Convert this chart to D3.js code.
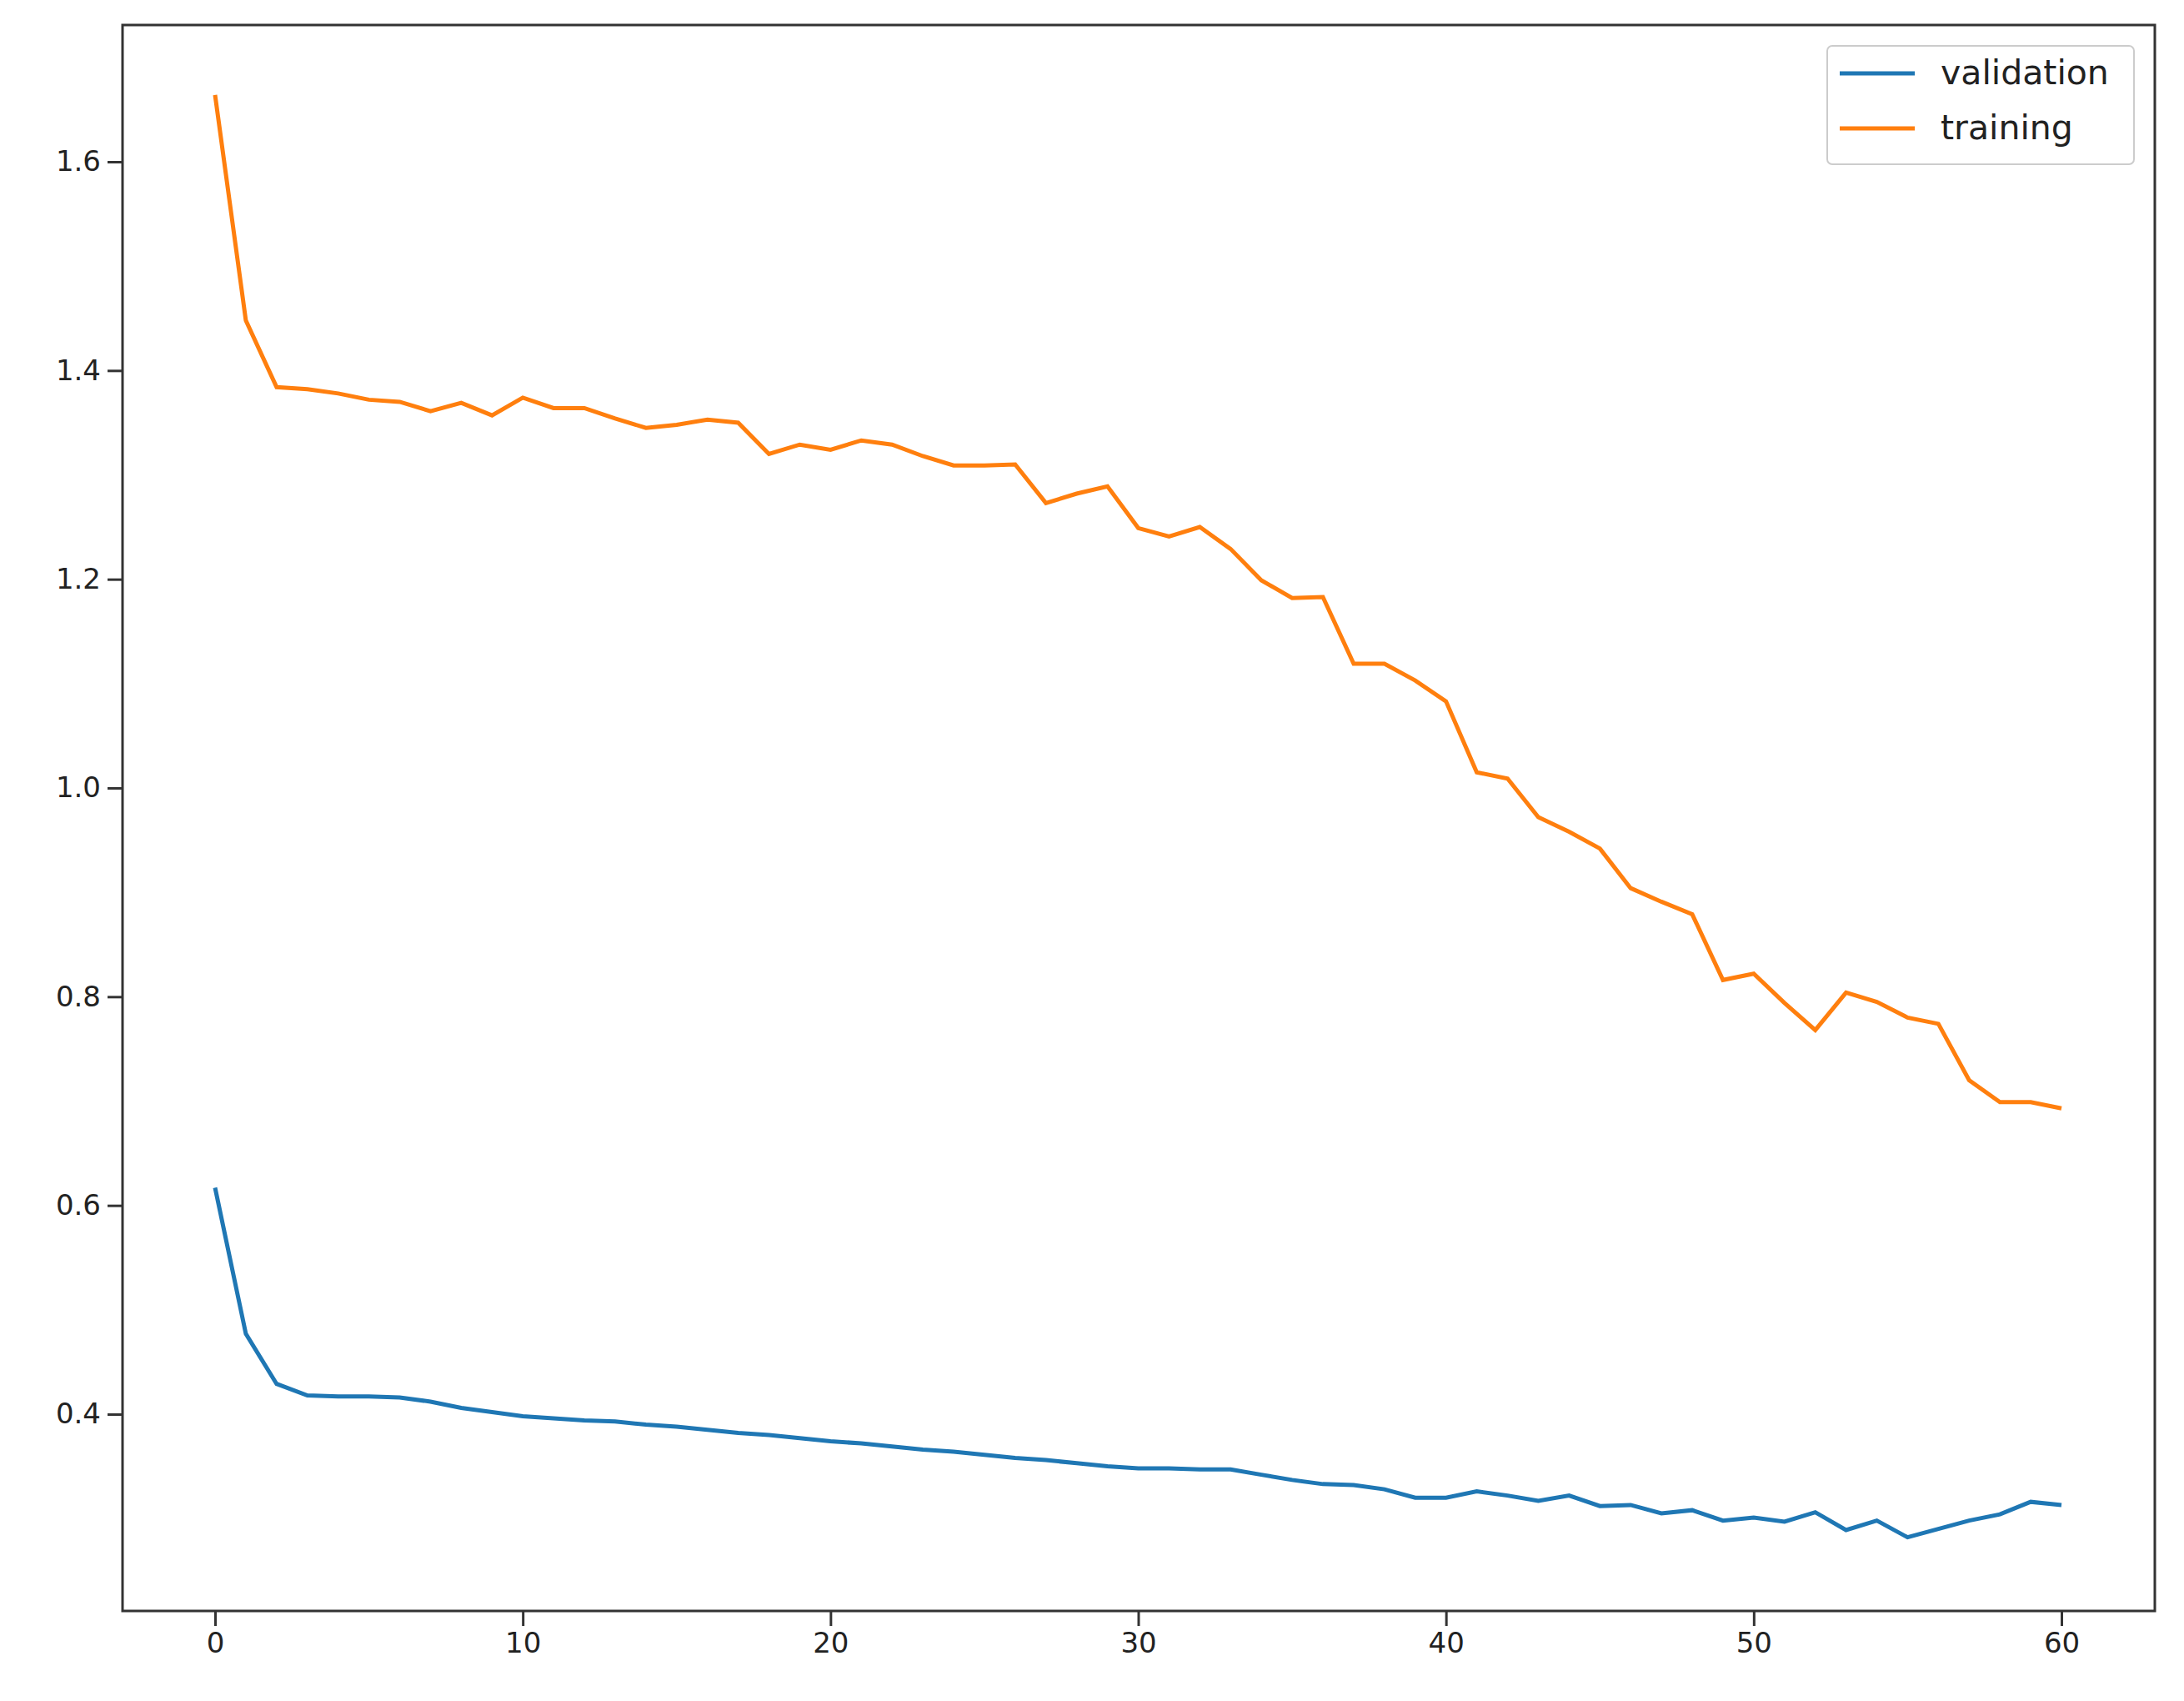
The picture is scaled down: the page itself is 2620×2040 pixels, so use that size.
<!DOCTYPE html><html><head><meta charset="utf-8"><script src="https://cdn.jsdelivr.net/npm/d3@7"></script>
<style>body{margin:0;background:#fff}</style></head><body><svg id="c" width="2620" height="2040"></svg>
<script>
const validation=[0.617,0.477,0.429,0.418,0.417,0.417,0.416,0.412,0.406,0.402,0.398,0.396,0.394,0.393,0.390,0.388,0.385,0.382,0.380,0.377,0.374,0.372,0.369,0.366,0.364,0.361,0.358,0.356,0.353,0.350,0.348,0.348,0.347,0.347,0.342,0.337,0.333,0.332,0.328,0.320,0.320,0.326,0.322,0.317,0.322,0.312,0.313,0.305,0.308,0.298,0.301,0.297,0.306,0.289,0.298,0.282,0.290,0.298,0.304,0.316,0.313];
const training=[1.664,1.448,1.384,1.382,1.378,1.372,1.370,1.361,1.369,1.357,1.374,1.364,1.364,1.354,1.345,1.348,1.353,1.350,1.320,1.329,1.324,1.333,1.329,1.318,1.309,1.309,1.310,1.273,1.282,1.289,1.249,1.241,1.250,1.229,1.199,1.182,1.183,1.119,1.119,1.103,1.083,1.015,1.009,0.972,0.958,0.942,0.904,0.891,0.879,0.816,0.822,0.794,0.768,0.804,0.795,0.780,0.774,0.720,0.699,0.699,0.693];
const xTicks=[0,10,20,30,40,50,60];
const yTicks=[0.4,0.6,0.8,1.0,1.2,1.4,1.6];
const series=[{name:"validation",values:validation,color:"#1f77b4"},{name:"training",values:training,color:"#ff7f0e"}];
const L=147,R=2585,T=30,B=1932;
const x=d3.scaleLinear().domain([0,60]).range([258,2473]);
const y=d3.scaleLinear().domain([0.4,1.6]).range([1696,194]);
const svg=d3.select("#c");
const font="'DejaVu Sans',sans-serif";
const line=d3.line().x((d,i)=>x(i)).y(d=>y(d));
series.forEach(s=>svg.append("path").attr("d",line(s.values)).attr("fill","none").attr("stroke",s.color).attr("stroke-width",5));
svg.append("rect").attr("x",L).attr("y",T).attr("width",R-L).attr("height",B-T).attr("fill","none").attr("stroke","#333").attr("stroke-width",3);
const xa=svg.append("g").attr("transform",`translate(0,${B})`).call(d3.axisBottom(x).tickValues(xTicks).tickSize(18).tickPadding(8).tickFormat(d3.format("d")));
const ya=svg.append("g").attr("transform",`translate(${L},0)`).call(d3.axisLeft(y).tickValues(yTicks).tickSize(18).tickPadding(8).tickFormat(d3.format(".1f")));
[xa,ya].forEach(a=>{a.select(".domain").remove();a.selectAll("line").attr("stroke","#333").attr("stroke-width",3);a.selectAll("text").attr("font-family",font).attr("font-size",34).attr("fill","#222");});
const lg=svg.append("g");
lg.append("rect").attr("x",2192).attr("y",55).attr("width",368).attr("height",142).attr("rx",6).attr("fill","#fff").attr("stroke","#ccc").attr("stroke-width",2);
series.forEach((s,i)=>{const yy=88+i*66;
lg.append("line").attr("x1",2207).attr("x2",2297).attr("y1",yy).attr("y2",yy).attr("stroke",s.color).attr("stroke-width",5);
lg.append("text").attr("x",2328).attr("y",yy+13).text(s.name).attr("font-family",font).attr("font-size",41).attr("fill","#222");});
</script></body></html>
